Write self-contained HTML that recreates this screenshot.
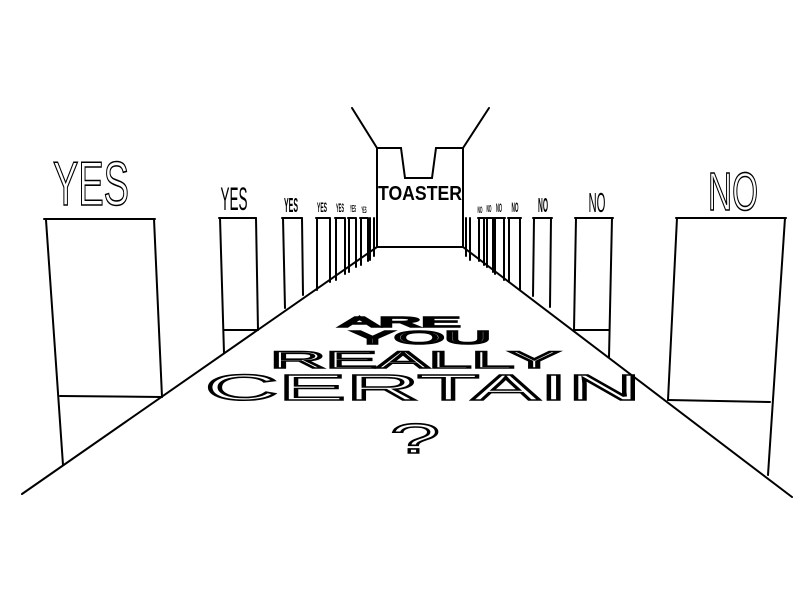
<!DOCTYPE html>
<html><head><meta charset="utf-8"><style>
html,body{margin:0;padding:0;background:#fff;width:800px;height:600px;overflow:hidden}
svg{display:block}
.ln{stroke:#000;stroke-width:2;fill:none;stroke-linecap:round}
.sign{font-family:"Liberation Sans",sans-serif;fill:#fff;stroke:#000;stroke-width:1.6}
.floor{font-family:"Liberation Sans",sans-serif;font-weight:normal;fill:#fff;stroke:#000;stroke-width:1.6}
</style></head><body>
<svg width="800" height="600" viewBox="0 0 800 600">
<g>
<line class="ln" x1="352" y1="108" x2="377" y2="148"/>
<line class="ln" x1="489" y1="108" x2="463" y2="148"/>
<polyline class="ln" points="377,148 401,148 405,178 432,178 436,148 463,148"/>
<line class="ln" x1="377" y1="148" x2="377" y2="247"/>
<line class="ln" x1="463" y1="148" x2="463" y2="247"/>
<line class="ln" x1="377" y1="247" x2="463" y2="247"/>
<text x="420" y="200" font-size="20" font-family="Liberation Sans" font-weight="bold" text-anchor="middle" textLength="84" lengthAdjust="spacingAndGlyphs">TOASTER</text>
</g>
<g>
<line class="ln" x1="377" y1="247" x2="22" y2="494"/>
<line class="ln" x1="463" y1="247" x2="792" y2="497"/>
</g>
<g>
<g>
<line class="ln" x1="44" y1="219" x2="155" y2="219"/>
<line class="ln" x1="46" y1="220" x2="63" y2="465"/>
<line class="ln" x1="154" y1="219" x2="162" y2="397"/>
<line class="ln" x1="60" y1="396" x2="162" y2="397"/>
<text class="sign" x="91" y="205" font-size="62" text-anchor="middle" textLength="76" lengthAdjust="spacingAndGlyphs">YES</text>
</g>
<g>
<line class="ln" x1="219" y1="218" x2="256" y2="218"/>
<line class="ln" x1="220" y1="218" x2="224" y2="353"/>
<line class="ln" x1="256" y1="218" x2="258" y2="330"/>
<line class="ln" x1="224" y1="330" x2="258" y2="330"/>
<text x="234" y="210" font-size="32" font-family="Liberation Sans" text-anchor="middle" textLength="27" lengthAdjust="spacingAndGlyphs">YES</text>
</g>
<g>
<line class="ln" x1="282" y1="218" x2="302" y2="218"/>
<line class="ln" x1="283" y1="218" x2="285" y2="308"/>
<line class="ln" x1="302" y1="218" x2="303" y2="295"/>
<text x="291" y="212" font-size="20" font-family="Liberation Sans" font-weight="bold" text-anchor="middle" textLength="14" lengthAdjust="spacingAndGlyphs">YES</text>
</g>
<g class="ln">
<path d="M316 218H330M317 218V290M330 218V282M335 218H345M336 218V280M345 218V274M348 218H356M349 218V272M356 218V267M360 218H368M361 218V265M368 218V261M370 218V260M374 218V256"/>
<text x="322" y="212" font-size="14" font-family="Liberation Sans" font-weight="bold" stroke="none" fill="#000" text-anchor="middle" textLength="10" lengthAdjust="spacingAndGlyphs">YES</text>
<text x="340" y="212" font-size="12" font-family="Liberation Sans" font-weight="bold" stroke="none" fill="#000" text-anchor="middle" textLength="8" lengthAdjust="spacingAndGlyphs">YES</text>
<text x="353" y="212" font-size="10" font-family="Liberation Sans" font-weight="bold" stroke="none" fill="#000" text-anchor="middle" textLength="6" lengthAdjust="spacingAndGlyphs">YES</text>
<text x="364" y="213" font-size="9" font-family="Liberation Sans" font-weight="bold" stroke="none" fill="#000" text-anchor="middle" textLength="5" lengthAdjust="spacingAndGlyphs">YES</text>
</g>
</g>
<g>
<g>
<line class="ln" x1="676" y1="218" x2="786" y2="218"/>
<line class="ln" x1="785" y1="218" x2="768" y2="475"/>
<line class="ln" x1="677" y1="218" x2="668" y2="400"/>
<line class="ln" x1="668" y1="400" x2="770" y2="402"/>
<text class="sign" x="733" y="210" font-size="54" text-anchor="middle" textLength="50" lengthAdjust="spacingAndGlyphs">NO</text>
</g>
<g>
<line class="ln" x1="575" y1="218" x2="613" y2="218"/>
<line class="ln" x1="612" y1="218" x2="609" y2="357"/>
<line class="ln" x1="576" y1="218" x2="574" y2="330"/>
<line class="ln" x1="574" y1="330" x2="609" y2="330"/>
<text x="597" y="212" font-size="28" font-family="Liberation Sans" text-anchor="middle" textLength="17" lengthAdjust="spacingAndGlyphs">NO</text>
</g>
<g>
<line class="ln" x1="533" y1="218" x2="552" y2="218"/>
<line class="ln" x1="551" y1="218" x2="550" y2="307"/>
<line class="ln" x1="534" y1="218" x2="533" y2="296"/>
<text x="543" y="212" font-size="20" font-family="Liberation Sans" font-weight="bold" text-anchor="middle" textLength="10" lengthAdjust="spacingAndGlyphs">NO</text>
</g>
<g class="ln">
<path d="M508 218H521M520 218V290M509 218V282M494 218H505M504 218V280M495 218V274M486 218H494M493 218V272M487 218V267M478 218H485M484 218V265M479 218V261M470 218V260M466 218V256"/>
<text x="515" y="212" font-size="14" font-family="Liberation Sans" font-weight="bold" stroke="none" fill="#000" text-anchor="middle" textLength="7" lengthAdjust="spacingAndGlyphs">NO</text>
<text x="499" y="212" font-size="12" font-family="Liberation Sans" font-weight="bold" stroke="none" fill="#000" text-anchor="middle" textLength="6" lengthAdjust="spacingAndGlyphs">NO</text>
<text x="489" y="212" font-size="10" font-family="Liberation Sans" font-weight="bold" stroke="none" fill="#000" text-anchor="middle" textLength="5" lengthAdjust="spacingAndGlyphs">NO</text>
<text x="480" y="213" font-size="9" font-family="Liberation Sans" font-weight="bold" stroke="none" fill="#000" text-anchor="middle" textLength="5" lengthAdjust="spacingAndGlyphs">NO</text>
</g>
</g>
<g>
<text class="floor" x="400" y="327" font-size="15" text-anchor="middle" textLength="120" lengthAdjust="spacingAndGlyphs">ARE</text>
<text class="floor" x="421" y="344" font-size="18" text-anchor="middle" textLength="140" lengthAdjust="spacingAndGlyphs">YOU</text>
<text class="floor" x="415" y="368" font-size="24" text-anchor="middle" textLength="290" lengthAdjust="spacingAndGlyphs">REALLY</text>
<text class="floor" x="423" y="400" font-size="36" text-anchor="middle" textLength="436" lengthAdjust="spacingAndGlyphs">CERTAIN</text>
<text class="floor" x="415" y="453" font-size="42" text-anchor="middle" textLength="50" lengthAdjust="spacingAndGlyphs">?</text>
</g>
</svg>
</body></html>
